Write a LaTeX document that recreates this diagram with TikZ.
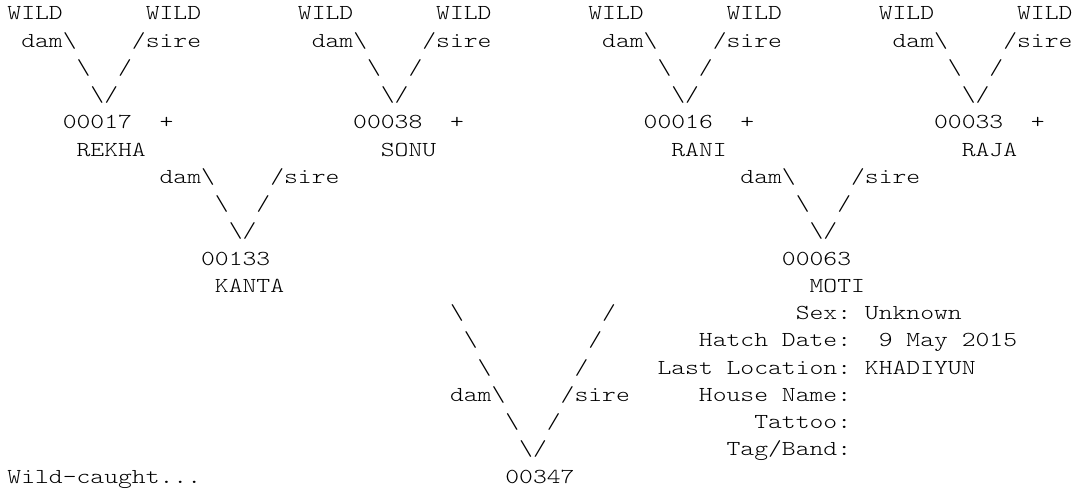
\documentclass[tikz,border=0pt]{standalone}
\usepackage{fontspec}
\usepackage{tikz}
\usetikzlibrary{positioning}

\newfontfamily\pedfont[FakeStretch=1.235]{lmmonolt10-regular.otf}
\newcommand\bsl{\textbackslash}

\begin{document}
\begin{tikzpicture}[
    x=10.3725pt, y=-20.43pt,
    tx/.style={font=\pedfont\fontsize{16pt}{20pt}\selectfont, anchor=base west, inner sep=0pt, outer sep=0pt}
]
    \useasboundingbox (-0.542,0.266) rectangle (77.55,18.291);

    % Great-grandparents (all wild)
    \foreach \o/\k in {0/a,21/b,42/c,63/d} {
        \node[tx] (wd\k) at (\o,1) {WILD};
        \node[tx] (ws\k) at (\o+10,1) {WILD};
        \node[tx] (dd\k) at (\o+1,2) {dam\bsl};
        \node[tx] (ss\k) at (\o+9,2) {/sire};
        \node[tx] (ld\k) at (\o+5,3) {\bsl};
        \node[tx] (ls\k) at (\o+8,3) {/};
        \node[tx] (vx\k) at (\o+6,4) {\bsl/};
        \node[tx] (pl\k) at (\o+11,5) {+};
    }

    % Grandparents
    \node[tx] (id17) at (4,5) {00017};
    \node[tx] (id38) at (25,5) {00038};
    \node[tx] (id16) at (46,5) {00016};
    \node[tx] (id33) at (67,5) {00033};
    \node[tx] (rekha) at (5,6) {REKHA};
    \node[tx] (sonu) at (27,6) {SONU};
    \node[tx] (rani) at (48,6) {RANI};
    \node[tx] (raja) at (69,6) {RAJA};

    % Parents
    \node[tx] (kd) at (11,7) {dam\bsl};
    \node[tx] (ks) at (19,7) {/sire};
    \node[tx] (kl) at (15,8) {\bsl};
    \node[tx] (kr) at (18,8) {/};
    \node[tx] (kv) at (16,9) {\bsl/};
    \node[tx] (id133) at (14,10) {00133};
    \node[tx] (kanta) at (15,11) {KANTA};

    \node[tx] (md) at (53,7) {dam\bsl};
    \node[tx] (ms) at (61,7) {/sire};
    \node[tx] (ml) at (57,8) {\bsl};
    \node[tx] (mr) at (60,8) {/};
    \node[tx] (mv) at (58,9) {\bsl/};
    \node[tx] (id63) at (56,10) {00063};
    \node[tx] (moti) at (58,11) {MOTI};

    % Subject
    \node[tx] (l1) at (32,12) {\bsl};
    \node[tx] (l2) at (33,13) {\bsl};
    \node[tx] (l3) at (34,14) {\bsl};
    \node[tx] (sd) at (32,15) {dam\bsl};
    \node[tx] (l5) at (36,16) {\bsl};
    \node[tx] (r1) at (43,12) {/};
    \node[tx] (r2) at (42,13) {/};
    \node[tx] (r3) at (41,14) {/};
    \node[tx] (ssr) at (40,15) {/sire};
    \node[tx] (r5) at (39,16) {/};
    \node[tx] (sv) at (37,17) {\bsl/};
    \node[tx] (id347) at (36,18) {00347};
    \node[tx] (wc) at (0,18) {Wild-caught...};

    % Details
    \node[tx] (sexl) at (57,12) {Sex:};
    \node[tx] (sexv) at (62,12) {Unknown};
    \node[tx] (hd1) at (50,13) {Hatch};
    \node[tx] (hd2) at (56,13) {Date:};
    \node[tx] (hdd) at (63,13) {9};
    \node[tx] (hdm) at (65,13) {May};
    \node[tx] (hdy) at (69,13) {2015};
    \node[tx] (ll1) at (47,14) {Last};
    \node[tx] (ll2) at (52,14) {Location:};
    \node[tx] (llv) at (62,14) {KHADIYUN};
    \node[tx] (hn1) at (50,15) {House};
    \node[tx] (hn2) at (56,15) {Name:};
    \node[tx] (tat) at (54,16) {Tattoo:};
    \node[tx] (tag) at (52,17) {Tag/Band:};
\end{tikzpicture}
\end{document}
